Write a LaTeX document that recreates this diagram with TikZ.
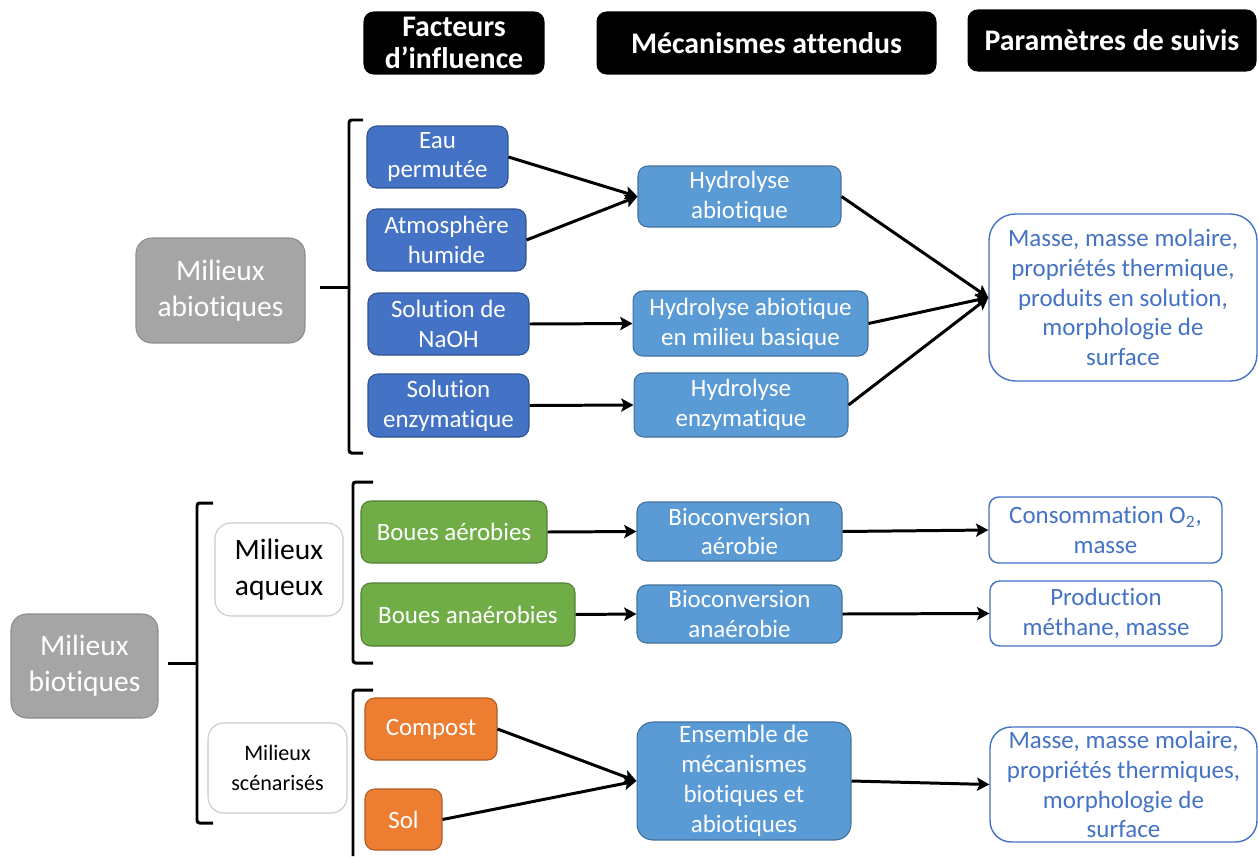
\documentclass[tikz,border=0pt]{standalone}
\usepackage{fontspec}
\setmainfont{Carlito}[Ligatures=NoCommon, Contextuals=NoAlternate]
\usepackage{tikz}
\usetikzlibrary{arrows.meta}
\definecolor{facblue}{HTML}{4472C4}
\definecolor{facbluedk}{HTML}{2F528F}
\definecolor{mecblue}{HTML}{5B9BD5}
\definecolor{mecbluedk}{HTML}{41719C}
\definecolor{aqgreen}{HTML}{70AD47}
\definecolor{aqgreendk}{HTML}{507E32}
\definecolor{scorange}{HTML}{ED7D31}
\definecolor{scorangedk}{HTML}{AE5A21}
\definecolor{milgray}{HTML}{A5A5A5}
\definecolor{milgraydk}{HTML}{8C8C8C}
\definecolor{milline}{HTML}{C9C9C9}
\definecolor{parblue}{HTML}{4472C4}
\tikzset{
  basebox/.style  = {rectangle, rounded corners=5.5pt, align=center, inner sep=1pt,
                     line width=0.6pt, font=\fontsize{14.2}{17}\selectfont},
  hdrbox/.style   = {basebox, fill=black, draw=black, text=white,
                     font=\fontsize{17}{19.4}\bfseries\selectfont},
  milbox/.style   = {basebox, fill=milgray, draw=milgraydk, text=white, rounded corners=9pt,
                     font=\fontsize{16.8}{20.5}\selectfont},
  subbox/.style   = {basebox, fill=white, draw=milline, text=black, rounded corners=9pt},
  facbox/.style   = {basebox, fill=facblue, draw=facbluedk, text=white},
  aqbox/.style    = {basebox, fill=aqgreen, draw=aqgreendk, text=white},
  scbox/.style    = {basebox, fill=scorange, draw=scorangedk, text=white},
  mecbox/.style   = {basebox, fill=mecblue, draw=mecbluedk, text=white},
  parbox/.style   = {basebox, fill=white, draw=parblue, text=parblue, line width=0.8pt},
  flow/.style     = {-{Stealth[length=7pt, width=7.5pt, inset=1.5pt]}, line width=1.7pt},
  brk/.style      = {line width=1.7pt, rounded corners=1.5pt},
}

\begin{document}
\begin{tikzpicture}[x=0.02cm, y=-0.02cm]
  \useasboundingbox (0,0) rectangle (1258,856);
  \node[hdrbox, minimum width=3.6cm, minimum height=1.24cm] (hfac) at (454,43) {Facteurs\\[-1pt]d’influence};
  \node[hdrbox, minimum width=6.78cm, minimum height=1.24cm] (hmec) at (766.5,43) {Mécanismes attendus};
  \node[hdrbox, minimum width=5.76cm, minimum height=1.22cm] (hpar) at (1112,40.5) {Paramètres de suivis};

  \node[milbox, minimum width=3.38cm, minimum height=2.1cm] (abio) at (220.5,290.5) {Milieux\\abiotiques};
  \node[milbox, minimum width=2.94cm, minimum height=2.08cm] (bio) at (84.5,666) {Milieux\\biotiques};
  \node[subbox, minimum width=2.56cm, minimum height=1.86cm, font=\fontsize{16.8}{20.5}\selectfont] (aq) at (279,569.5) {Milieux\\aqueux};
  \node[subbox, minimum width=2.78cm, minimum height=1.8cm, font=\fontsize{12.6}{17}\selectfont] (scen) at (277.5,768) {Milieux\\scénarisés};

  \node[facbox, minimum width=2.82cm, minimum height=1.24cm] (eau) at (437.5,157) {Eau\\permutée};
  \node[facbox, minimum width=3.18cm, minimum height=1.24cm] (atm) at (446.5,240) {Atmosphère\\humide};
  \node[facbox, minimum width=3.22cm, minimum height=1.24cm] (naoh) at (448.5,324) {Solution de\\NaOH};
  \node[facbox, minimum width=3.22cm, minimum height=1.26cm] (enz) at (448.5,405.5) {Solution\\enzymatique};
  \node[aqbox, minimum width=3.72cm, minimum height=1.24cm] (aer) at (454,532) {Boues aérobies};
  \node[aqbox, minimum width=4.28cm, minimum height=1.26cm] (ana) at (468,614.5) {Boues anaérobies};
  \node[scbox, minimum width=2.64cm, minimum height=1.24cm] (comp) at (431,729) {Compost};
  \node[scbox, minimum width=1.54cm, minimum height=1.22cm] (sol) at (403.5,819.5) {Sol};

  \node[mecbox, minimum width=4.06cm, minimum height=1.22cm] (hyd) at (739.5,196.5) {Hydrolyse\\abiotique};
  \node[mecbox, minimum width=4.7cm, minimum height=1.3cm] (hydb) at (750.5,323.5) {Hydrolyse abiotique\\en milieu basique};
  \node[mecbox, minimum width=4.28cm, minimum height=1.28cm] (hyde) at (741,405) {Hydrolyse\\enzymatique};
  \node[mecbox, minimum width=4.1cm, minimum height=1.18cm] (bioa) at (739.5,531.5) {Bioconversion\\aérobie};
  \node[mecbox, minimum width=4.1cm, minimum height=1.16cm] (biob) at (739.5,614) {Bioconversion\\anaérobie};
  \node[mecbox, minimum width=4.28cm, minimum height=2.36cm, rounded corners=9pt] (ens) at (744,781) {Ensemble de\\mécanismes\\biotiques et\\abiotiques};

  \node[parbox, minimum width=5.36cm, minimum height=3.34cm, rounded corners=15pt] (par1) at (1123,297.5) {Masse, masse molaire,\\propriétés thermique,\\produits en solution,\\morphologie de\\surface};
  \node[parbox, minimum width=4.66cm, minimum height=1.32cm] (par2) at (1105.5,530) {Consommation O\textsubscript{2},\\masse};
  \node[parbox, minimum width=4.64cm, minimum height=1.3cm] (par3) at (1106,613.5) {Production\\méthane, masse};
  \node[parbox, minimum width=5.34cm, minimum height=2.3cm, rounded corners=12pt] (par4) at (1123.5,784.5) {Masse, masse molaire,\\propriétés thermiques,\\morphologie de\\surface};

  % accolades
  \draw[brk] (363,120) -- (349,120) -- (349,453) -- (363,453);
  \draw[brk] (320,287) -- (349,287);
  \draw[brk] (213,503) -- (197,503) -- (197,823) -- (213,823);
  \draw[brk] (168,663) -- (197,663);
  \draw[brk] (373,482) -- (353,482) -- (353,663) -- (373,663);
  \draw[brk] (373,690) -- (353,690) -- (353,856);

  \draw[flow] (eau.east) -- (hyd.west);
  \draw[flow] (atm.east) -- (hyd.west);
  \draw[flow] (naoh.east) -- (hydb.west);
  \draw[flow] (enz.east) -- (hyde.west);
  \draw[flow] (hyd.east) -- (par1.west);
  \draw[flow] (hydb.east) -- (par1.west);
  \draw[flow] (hyde.east) -- (par1.west);
  \draw[flow] (aer.east) -- (bioa.west);
  \draw[flow] (ana.east) -- (biob.west);
  \draw[flow] (bioa.east) -- (par2.west);
  \draw[flow] (biob.east) -- (par3.west);
  \draw[flow] (comp.east) -- (ens.west);
  \draw[flow] (sol.east) -- (ens.west);
  \draw[flow] (ens.east) -- (par4.west);
\end{tikzpicture}
\end{document}
